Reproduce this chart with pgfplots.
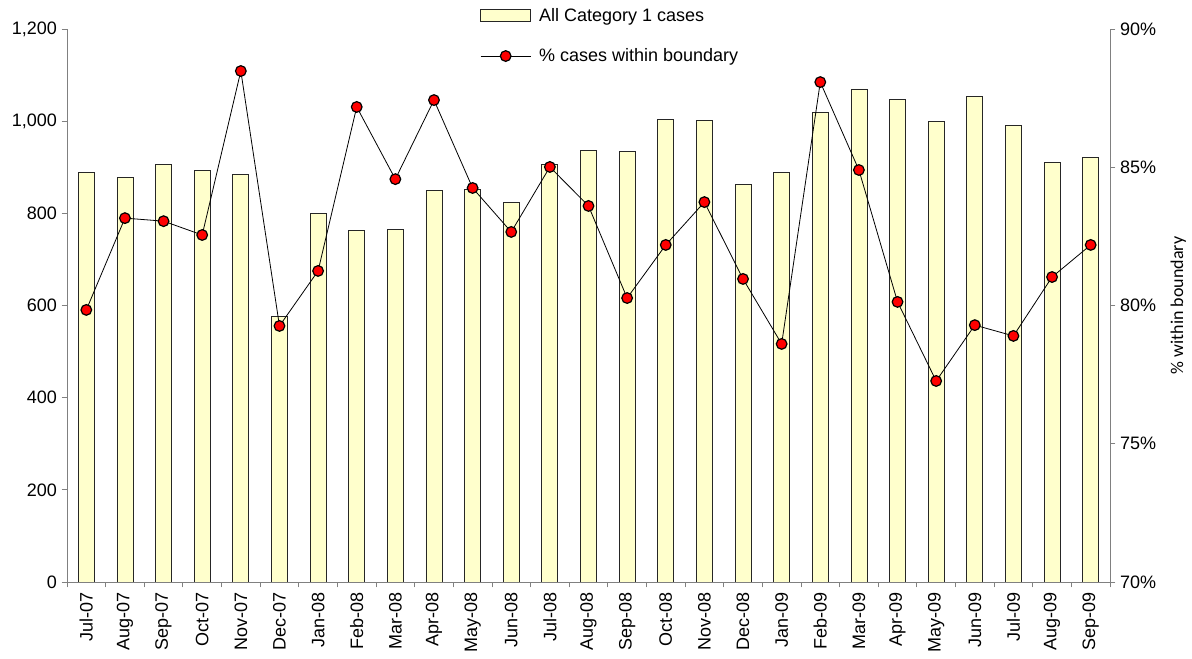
\documentclass[border=0pt]{standalone}
\usepackage{fontspec}
\setmainfont{Liberation Sans}
\newfontfamily\carlito{Carlito}
\usepackage{pgfplots}
\usepackage{pgfplotstable}
\pgfplotsset{compat=1.18}
\definecolor{barfill}{HTML}{FFFFCC}
\definecolor{axgray}{HTML}{808080}

\pgfplotsset{
  myline legend/.style={legend image code/.code={\draw[mark repeat=2, mark phase=2, ##1] plot coordinates {(0pt,0pt) (18.75pt,0pt) (37.5pt,0pt)};}},
  mybar legend/.style={legend image code/.code={\draw[fill=barfill, draw=black!85, line width=0.6pt] (0pt,-4.5pt) rectangle (37.5pt,4.5pt);}},
}

\pgfplotstableread{
x bars pct
0 888 79.84
1 878 83.16
2 907 83.05
3 893 82.55
4 884 88.48
5 577 79.26
6 799 81.25
7 763 87.18
8 765 84.57
9 849 87.43
10 851 84.25
11 823 82.66
12 907 85.01
13 937 83.60
14 934 80.27
15 1004 82.19
16 1002 83.74
17 862 80.96
18 889 78.61
19 1019 88.08
20 1070 84.90
21 1047 80.13
22 1000 77.27
23 1053 79.29
24 991 78.90
25 910 81.03
26 921 82.19
}\data

\begin{document}
\begin{tikzpicture}
\pgfplotsset{
  common/.style={
    width=782.25pt, height=414.75pt, scale only axis,
    xmin=-0.5, xmax=26.5,
    /pgf/number format/assume math mode=true,
    tick label style={font=\fontsize{13.5}{16}\selectfont},
    axis line style={axgray, line width=0.6pt},
    tick style={axgray, line width=0.6pt},
    tick align=outside,
    major tick length=4pt,
    minor tick length=4pt,
  }
}
\begin{axis}[common,
  ymin=0, ymax=1200, ytick={0,200,...,1200},
  /pgf/number format/1000 sep={,},
  axis y line*=left, axis x line*=bottom,
  xtick={0,...,26},
  xticklabels={Jul-07,Aug-07,Sep-07,Oct-07,Nov-07,Dec-07,Jan-08,Feb-08,Mar-08,Apr-08,May-08,Jun-08,Jul-08,Aug-08,Sep-08,Oct-08,Nov-08,Dec-08,Jan-09,Feb-09,Mar-09,Apr-09,May-09,Jun-09,Jul-09,Aug-09,Sep-09},
  xticklabel style={rotate=90, anchor=east},
  major x tick style={draw=none},
  minor xtick={-0.5,0.5,...,26.5},
  ybar, bar width=12pt,
]
\addplot[fill=barfill, draw=black!85, line width=0.6pt] table[x=x, y=bars] {\data};
\end{axis}
\begin{axis}[common,
  ymin=70, ymax=90, ytick={70,75,...,90},
  yticklabel={\pgfmathprintnumber{\tick}\%},
  axis y line*=right, axis x line=none,
  ylabel={\carlito\fontsize{13.5}{16}\selectfont \% within boundary},
  ylabel shift=4pt,
  legend style={draw=none, fill=none, at={(0.396,1.043)}, anchor=north west,
    font=\fontsize{13.5}{16}\selectfont, row sep=15pt, column sep=4pt, inner sep=0pt,
    cells={anchor=west}},
]
\addlegendimage{mybar legend}
\addlegendentry{All Category 1 cases}
\addplot[black, line width=0.6pt, mark=*, mark size=4pt, mark options={fill=red, draw=black, line width=0.9pt}, myline legend]
  table[x=x, y=pct] {\data};
\addlegendentry{\% cases within boundary}
\end{axis}
\pgfresetboundingbox
\path[use as bounding box] (-50.25pt,-57.75pt) rectangle (843.75pt,436.5pt);
\end{tikzpicture}
\end{document}
